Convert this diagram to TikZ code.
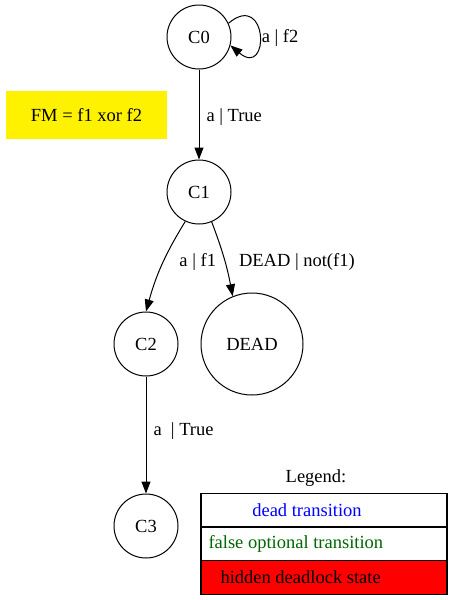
\documentclass[tikz,border=0pt]{standalone}
\usepackage{fontspec}
\setmainfont{Liberation Serif}
\usetikzlibrary{shapes,arrows.meta,positioning}

\begin{document}
\begin{tikzpicture}[
    x=1pt, y=-1pt,
    font=\fontsize{18.5}{21}\selectfont,
    line width=1pt,
    state/.style={circle, draw, minimum size=64pt, inner sep=0pt},
    arrow/.style={-{Triangle[length=12pt,width=9pt]}},
    cell/.style={rectangle, draw, line width=1.3pt, minimum width=246pt, minimum height=33.5pt, inner sep=0pt}
]
\useasboundingbox (0,0) rectangle (453,600);

% States
\node[state] (c0) at (199,37) {C0};
\node[state] (c1) at (199,192) {C1};
\node[state] (c2) at (146,344) {C2};
\node[state, minimum size=102pt] (dead) at (252,344) {DEAD};
\node[state] (c3) at (146,526) {C3};

% Feature model
\node[rectangle, fill=yellow, minimum width=161pt, minimum height=48pt] (fm) at (86.5,115) {FM = f1 xor f2};

% Transitions
\draw[arrow] (c0.25) to[out=40, in=-40, looseness=6] node[right, inner sep=2pt, yshift=-4pt] {a | f2} (c0.-15);
\draw[arrow] (c0) -- node[right, inner sep=7pt, yshift=-3pt] {a | True} (c1);
\draw[arrow] (c1.-115) to[bend right=8] node[right, pos=0.42, inner sep=6pt, xshift=8pt, yshift=-4pt] {a | f1} (c2.north);
\draw[arrow] (c1.-67) to[bend left=5] node[right, pos=0.42, inner sep=6pt, xshift=10pt, yshift=-9pt] {DEAD | not(f1)} (dead.112);
\draw[arrow] (c2) -- node[right, inner sep=7pt, yshift=4pt] {a \ | True} (c3);

% Legend
\node (legend) at (316,478) {Legend:};
\node[cell] (row1) at (324,510) {};
\node[cell] (row2) at (324,544) {};
\node[cell, fill=red] (row3) at (324,577.5) {};
\node[text=blue] at (307,510) {dead transition};
\node[text=green!40!black, anchor=west, inner sep=0pt] at (208,544) {false optional transition};
\node[anchor=west, inner sep=0pt] at (220,577.5) {hidden deadlock state};

\end{tikzpicture}
\end{document}
